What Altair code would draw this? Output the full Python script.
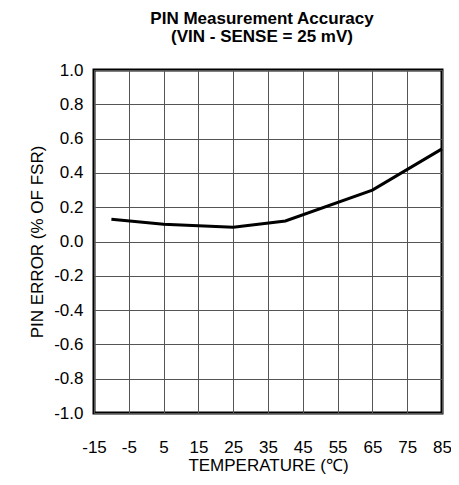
import altair as alt
import pandas as pd

temperature = [-10, 5, 25, 40, 65, 85]
pin_error = [0.13, 0.10, 0.083, 0.12, 0.30, 0.54]
x_ticks = [-15, -5, 5, 15, 25, 35, 45, 55, 65, 75, 85]
y_ticks = [-1.0, -0.8, -0.6, -0.4, -0.2, 0.0, 0.2, 0.4, 0.6, 0.8, 1.0]

df = pd.DataFrame({"t": temperature, "e": pin_error})

FONT = "Liberation Sans"

chart = alt.Chart(df).mark_line(color="black", strokeWidth=3).encode(
    x=alt.X("t:Q",
            scale=alt.Scale(domain=[-15, 85], nice=False, zero=False),
            axis=alt.Axis(values=x_ticks, title="TEMPERATURE (\u2103)",
                          labelExpr="'' + datum.value", labelOverlap=False,
                          labelFlush=False,
                          labelPadding=26, titlePadding=2)),
    y=alt.Y("e:Q",
            scale=alt.Scale(domain=[-1, 1], nice=False),
            axis=alt.Axis(values=y_ticks, title="PIN ERROR (% OF FSR)",
                          labelExpr="datum.value < 0 ? '-' + format(-datum.value, '.1f') : format(datum.value, '.1f')",
                          labelOverlap=False, labelFlush=False,
                          labelPadding=11, titlePadding=7)),
).properties(
    width=348,
    height=343,
    autosize=alt.AutoSizeParams(type="none"),
    padding={"left": 86, "top": 62, "right": 9, "bottom": 64},
    title=alt.TitleParams(
        text=["PIN Measurement Accuracy", "(VIN - SENSE = 25 mV)"],
        font=FONT, fontSize=17, fontWeight="bold", color="black",
        anchor="middle", lineHeight=18, offset=15, dx=-6,
    ),
).configure_view(
    stroke="black", strokeWidth=3
).configure_axis(
    grid=True, gridColor="#555555", gridWidth=1, gridOpacity=1,
    domain=False, ticks=False,
    labelFont=FONT, labelFontSize=17, labelColor="black",
    titleFont=FONT, titleFontSize=17, titleFontWeight="normal", titleColor="black",
)

chart.save("out.html", embed_options={"renderer": "svg", "actions": False})
